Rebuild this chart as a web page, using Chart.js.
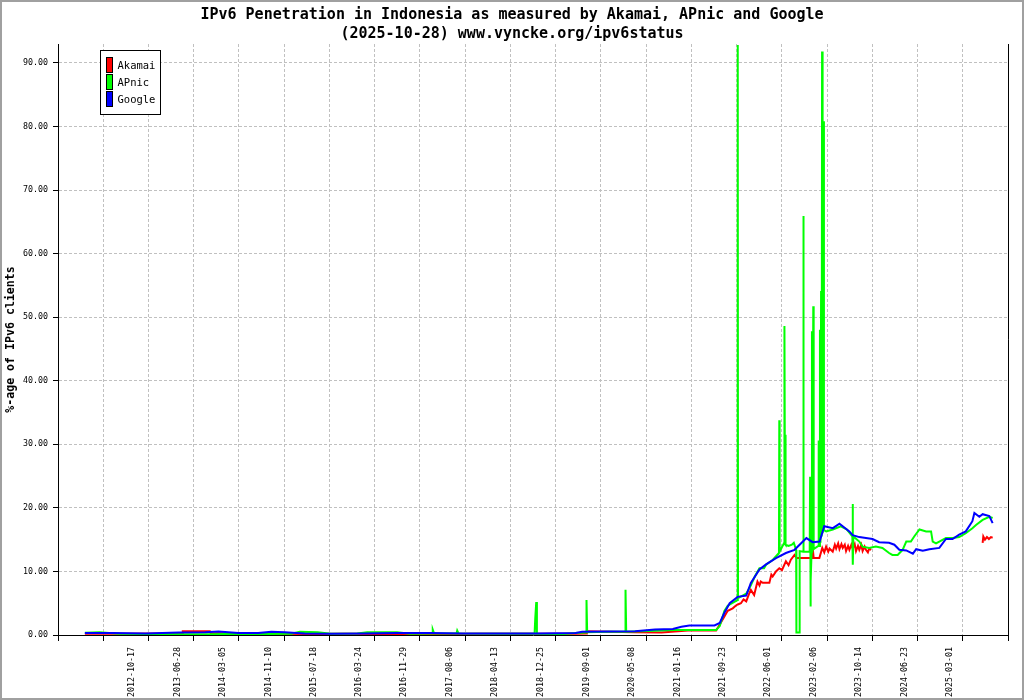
<!DOCTYPE html>
<html>
<head>
<meta charset="utf-8">
<script src="https://cdn.jsdelivr.net/npm/chart.js@4.4.0/dist/chart.umd.min.js"></script>
<style>
html,body{margin:0;padding:0;background:#fff;}
canvas{display:block;}
</style>
</head>
<body>
<canvas id="c" width="1024" height="700"></canvas>
<script>
// ---------------- data ----------------
const titleLines = [
  'IPv6 Penetration in Indonesia as measured by Akamai, APnic and Google',
  '(2025-10-28) www.vyncke.org/ipv6status'
];
const yAxisTitle = '%-age of IPv6 clients';
const xTickLabels = ['2012-10-17','2013-06-28','2014-03-05','2014-11-10','2015-07-18','2016-03-24',
  '2016-11-29','2017-08-06','2018-04-13','2018-12-25','2019-09-01','2020-05-08','2021-01-16',
  '2021-09-23','2022-06-01','2023-02-06','2023-10-14','2024-06-23','2025-03-01'];
const yTickValues = [0,10,20,30,40,50,60,70,80,90];
const seriesNames = ['Akamai','APnic','Google'];
const seriesColors = ['#ff0000','#00ff00','#0000ff'];

// x values are decimal years
const akamaiX = [2012.08,2012.6,2013.2,2013.55,2013.56,2013.97,2013.98,2014.5,2015.0,2015.5,
  2016.0,2016.6,2017.0,2017.5,2018.0,2018.5,2019.0,2019.5,2019.66,2019.67,
  2020.0,2020.4,2020.8,2021.0,2021.2,2021.625,2021.70,2021.80,2021.876,2021.92,
  2021.952,2022.00,2022.04,2022.08,2022.12,2022.15,2022.20,2022.25,2022.28,2022.30,
  2022.33,2022.43,2022.46,2022.48,2022.53,2022.58,2022.62,2022.68,2022.72,2022.755,
  2022.81,2022.84,2022.985,2023.07,2023.085,2023.10,2023.186,2023.23,2023.26,2023.288,
  2023.32,2023.34,2023.388,2023.42,2023.44,2023.47,2023.49,2023.52,2023.54,2023.57,
  2023.59,2023.62,2023.64,2023.67,2023.69,2023.72,2023.74,2023.77,2023.79,2023.82,
  2023.84,2023.87,2023.89,2023.92,2023.94,2023.97,2024.0,2025.655,2025.665,2025.69,
  2025.72,2025.75,2025.78,2025.806];
const akamaiY = [0.2,0.2,0.25,0.3,0.6,0.6,0.3,0.25,0.2,0.15,
  0.2,0.15,0.1,0.15,0.2,0.2,0.2,0.2,0.25,0.6,
  0.5,0.45,0.4,0.55,0.7,0.7,2.0,3.8,4.2,4.6,
  4.8,5.0,5.6,5.3,6.4,7.1,6.3,8.4,7.8,8.4,
  8.2,8.2,9.5,9.2,10.0,10.5,10.2,11.6,11.0,11.85,
  12.6,12.1,12.1,12.1,13.7,12.1,12.1,13.7,13.0,13.9,
  13.1,13.6,13.1,14.2,13.6,14.4,13.5,14.3,13.7,14.2,
  13.2,14.0,13.4,14.2,13.6,14.3,13.2,14.0,13.4,14.2,
  13.2,13.9,13.4,13.0,13.6,13.4,null,14.5,15.5,15.0,
  15.4,15.1,15.4,15.3];

const apnicX = [2012.08,2012.3,2012.6,2013.0,2013.6,2014.0,2014.4,2014.8,2015.2,2015.33,
  2015.6,2015.8,2016.2,2016.35,2016.8,2017.0,2017.33,2017.34,2017.36,2017.70,
  2017.71,2017.73,2018.3,2018.88,2018.89,2018.905,2018.915,2019.3,2019.5,2019.66,
  2019.665,2019.675,2020.0,2020.25,2020.252,2020.258,2020.265,2020.5,2020.8,2021.0,
  2021.4,2021.625,2021.68,2021.75,2021.80,2021.90,2021.948,2021.952,2021.956,2022.08,
  2022.15,2022.21,2022.28,2022.35,2022.38,2022.48,2022.575,2022.580,2022.585,2022.655,
  2022.658,2022.668,2022.672,2022.678,2022.72,2022.77,2022.80,2022.835,2022.839,2022.884,
  2022.888,2022.942,2022.945,2022.948,2023.04,2023.046,2023.050,2023.054,2023.058,2023.068,
  2023.074,2023.080,2023.094,2023.100,2023.170,2023.176,2023.185,2023.195,2023.203,2023.212,
  2023.220,2023.227,2023.235,2023.247,2023.255,2023.29,2023.39,2023.51,2023.60,2023.685,
  2023.69,2023.693,2023.70,2023.79,2023.84,2023.94,2024.04,2024.14,2024.24,2024.29,
  2024.37,2024.445,2024.50,2024.57,2024.62,2024.70,2024.80,2024.875,2024.90,2024.95,
  2025.00,2025.10,2025.20,2025.30,2025.40,2025.50,2025.555,2025.655,2025.756,2025.806];
const apnicY = [0.35,0.45,0.2,0.15,0.1,0.1,0.2,0.15,0.2,0.5,
  0.45,0.2,0.25,0.45,0.45,0.2,0.25,0.85,0.25,0.25,
  0.7,0.25,0.2,0.2,2.6,5.2,0.2,0.15,0.3,0.4,
  5.5,0.45,0.5,0.5,3.7,7.1,0.5,0.6,0.7,0.8,
  0.8,0.8,1.4,3.8,4.6,5.2,5.5,92.8,5.8,6.5,
  7.8,9.2,10.5,10.5,11.05,11.8,12.9,33.8,13.1,14.5,
  48.6,14.3,31.5,14.2,14.0,14.2,14.5,13.4,0.4,0.4,
  13.2,13.1,65.9,13.1,13.1,24.9,13.0,4.5,8.4,13.0,
  47.8,13.0,51.7,13.5,14.0,30.6,14.0,48.0,14.5,54.1,
  15.5,91.8,16.0,80.8,16.5,16.3,16.6,17.1,16.6,15.5,
  20.6,11.05,15.5,14.7,13.9,13.7,13.9,13.7,12.9,12.6,
  12.6,13.4,14.7,14.7,15.5,16.6,16.3,16.3,14.7,14.4,
  14.7,15.25,15.25,15.4,16.0,16.8,17.3,18.1,18.6,18.4];

const googleX = [2012.08,2012.5,2013.0,2013.5,2013.9,2014.1,2014.4,2014.7,2014.9,2015.1,
  2015.4,2015.8,2016.3,2016.8,2017.3,2017.8,2018.3,2018.9,2019.5,2019.6,
  2020.0,2020.4,2020.7,2020.97,2021.1,2021.22,2021.4,2021.6,2021.68,2021.75,
  2021.83,2021.95,2022.08,2022.15,2022.28,2022.38,2022.53,2022.68,2022.81,2022.99,
  2023.085,2023.19,2023.26,2023.39,2023.49,2023.64,2023.69,2023.79,2023.89,2023.99,
  2024.09,2024.24,2024.32,2024.395,2024.50,2024.60,2024.65,2024.75,2024.85,2025.00,
  2025.10,2025.20,2025.30,2025.40,2025.50,2025.53,2025.605,2025.655,2025.756,2025.806];
const googleY = [0.3,0.3,0.25,0.4,0.45,0.55,0.3,0.3,0.5,0.45,
  0.25,0.2,0.25,0.3,0.3,0.25,0.25,0.25,0.3,0.5,
  0.55,0.6,0.85,0.95,1.3,1.5,1.5,1.5,1.9,3.5,
  5.0,6.0,6.2,8.2,10.3,11.1,12.1,12.9,13.4,15.25,
  14.6,14.7,17.1,16.8,17.5,16.3,15.7,15.4,15.25,15.1,
  14.6,14.5,14.2,13.4,13.3,12.8,13.5,13.25,13.5,13.7,
  15.1,15.1,15.8,16.3,17.9,19.2,18.6,19.0,18.7,17.6];

// axis range (decimal years / percent)
const X_MIN = 2011.6735, X_MAX = 2026.039, Y_MAX = 92.97, GRID_DIVISIONS = 21;

// ---------------- helpers ----------------
const FONT = 'DejaVu Sans Mono';
function toYear(s) {
  const [y, m, d] = s.split('-').map(Number);
  const a = Date.UTC(y, 0, 1), b = Date.UTC(y + 1, 0, 1);
  return y + (Date.UTC(y, m - 1, d) - a) / (b - a);
}
function zip(xs, ys) { return xs.map((x, i) => ({ x: x, y: ys[i] })); }

const decor = {
  id: 'decor',
  beforeDraw(chart) {
    const c = chart.ctx;
    c.save();
    c.fillStyle = '#fff';
    c.fillRect(0, 0, chart.width, chart.height);
    c.restore();
  },
  afterDraw(chart) {
    const c = chart.ctx, a = chart.chartArea;
    c.save();
    // right border of plot
    c.strokeStyle = '#000'; c.lineWidth = 1;
    c.beginPath();
    c.moveTo(Math.round(a.right) + 0.5, a.top);
    c.lineTo(Math.round(a.right) + 0.5, a.bottom + 0.5);
    c.stroke();
    // title
    c.fillStyle = '#000';
    c.font = 'bold 15px ' + FONT;
    c.textAlign = 'center'; c.textBaseline = 'alphabetic';
    c.fillText(titleLines[0], chart.width / 2, 18.5);
    c.fillText(titleLines[1], chart.width / 2, 37.5);
    // legend
    const lx = a.left + 42.5, ly = a.top + 6.5;
    c.fillStyle = '#fff';
    c.fillRect(lx, ly, 60, 64);
    c.strokeStyle = '#000';
    c.strokeRect(lx, ly, 60, 64);
    c.font = '10.5px ' + FONT;
    c.textAlign = 'left'; c.textBaseline = 'middle';
    chart.data.datasets.forEach((ds, i) => {
      const y0 = ly + 7 + i * 17;
      c.fillStyle = ds.borderColor;
      c.fillRect(lx + 6, y0, 6, 15);
      c.strokeStyle = '#000';
      c.strokeRect(lx + 6, y0, 6, 15);
      c.fillStyle = '#000';
      c.fillText(ds.label, lx + 17, y0 + 8.5);
    });
    // outer frame
    c.strokeStyle = '#a0a0a0'; c.lineWidth = 2;
    c.strokeRect(1, 1, chart.width - 2, chart.height - 2);
    c.restore();
  }
};

const isLabelTick = ctx => !!(ctx && ctx.tick && ctx.tick.isLabel);

new Chart(document.getElementById('c'), {
  type: 'line',
  data: {
    datasets: [
      { label: seriesNames[0], data: zip(akamaiX, akamaiY), borderColor: seriesColors[0], backgroundColor: seriesColors[0], order: 3 },
      { label: seriesNames[1], data: zip(apnicX, apnicY), borderColor: seriesColors[1], backgroundColor: seriesColors[1], order: 2 },
      { label: seriesNames[2], data: zip(googleX, googleY), borderColor: seriesColors[2], backgroundColor: seriesColors[2], order: 1 }
    ]
  },
  options: {
    responsive: false,
    animation: false,
    devicePixelRatio: 1,
    spanGaps: false,
    layout: { padding: { left: 0, right: 15, top: 44, bottom: 0 } },
    elements: {
      line: { borderWidth: 2, tension: 0, fill: false },
      point: { radius: 0, hoverRadius: 0 }
    },
    plugins: {
      legend: { display: false },
      title: { display: false },
      tooltip: { enabled: false }
    },
    scales: {
      x: {
        type: 'linear',
        min: X_MIN, max: X_MAX,
        afterBuildTicks(scale) {
          const t = [];
          const step = (X_MAX - X_MIN) / GRID_DIVISIONS;
          for (let k = 0; k <= GRID_DIVISIONS; k++) t.push({ value: X_MIN + k * step, isLabel: false, text: '' });
          xTickLabels.forEach(s => t.push({ value: toYear(s), isLabel: true, text: s }));
          t.sort((p, q) => p.value - q.value);
          scale.ticks = t;
        },
        afterFit(scale) { scale.height = 65; },
        ticks: {
          autoSkip: false, minRotation: 90, maxRotation: 90, padding: 6,
          color: '#000', font: { family: FONT, size: 8.3 },
          callback(v, i, ticks) { return ticks[i] && ticks[i].isLabel ? ticks[i].text : ''; }
        },
        grid: {
          color: '#c0c0c0',
          lineWidth: ctx => isLabelTick(ctx) ? 0 : 1,
          tickWidth: ctx => isLabelTick(ctx) ? 0 : 1,
          tickColor: '#000', tickLength: 6
        },
        border: { color: '#000', width: 1, dash: [3, 2] }
      },
      y: {
        type: 'linear',
        min: 0, max: Y_MAX,
        afterBuildTicks(scale) { scale.ticks = yTickValues.map(v => ({ value: v })); },
        afterFit(scale) { scale.width = 58; },
        ticks: {
          padding: 5, color: '#000', font: { family: FONT, size: 8.3 },
          callback: v => Number(v).toFixed(2)
        },
        grid: { color: '#c0c0c0', lineWidth: 1, tickColor: '#000', tickLength: 5 },
        border: { color: '#000', width: 1, dash: [3, 2] },
        title: {
          display: true, text: yAxisTitle, color: '#000',
          font: { family: FONT, size: 11.6, weight: 'bold' },
          padding: { top: 4, bottom: 0 }
        }
      }
    }
  },
  plugins: [decor]
});
</script>
</body>
</html>
